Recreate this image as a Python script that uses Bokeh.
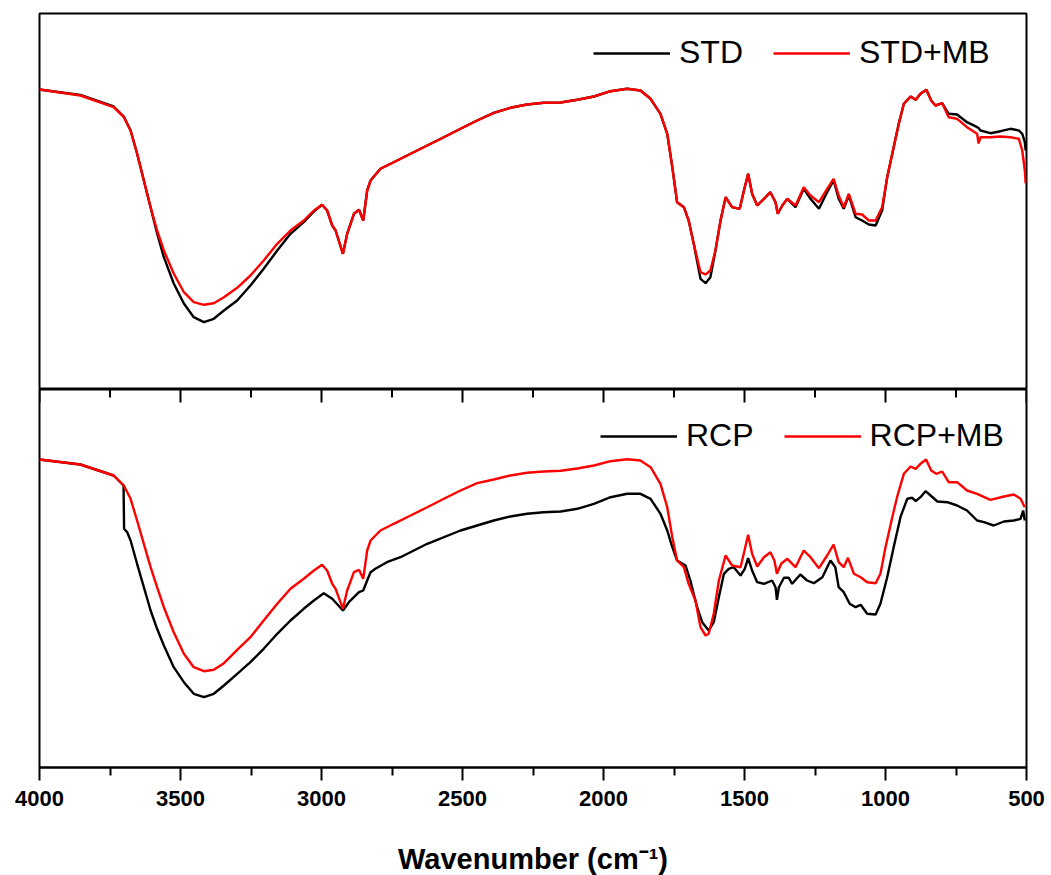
import math
from bokeh.plotting import figure
from bokeh.layouts import column
from bokeh.models import Range1d, FixedTicker, LinearAxis, Legend, LegendItem
from bokeh.embed import file_html
from bokeh.resources import INLINE

# ---------------- data (transmittance, arbitrary units) ----------------
top_wn = [4000, 3855, 3737, 3701, 3677, 3654, 3630, 3606, 3583, 3559, 3524, 3488,
          3453, 3417, 3382, 3346, 3299, 3252, 3205, 3157, 3110, 3063, 3027, 2998,
          2980, 2962, 2950, 2924, 2909, 2885, 2867, 2852, 2838, 2826, 2791, 2744,
          2684, 2625, 2566, 2507, 2448, 2389, 2330, 2271, 2212, 2152, 2093, 2034,
          1975, 1916, 1869, 1833, 1798, 1774, 1756, 1739, 1715, 1698, 1680, 1656,
          1638, 1621, 1603, 1585, 1567, 1544, 1517, 1502, 1487, 1473, 1455, 1431,
          1408, 1390, 1382, 1366, 1348, 1319, 1290, 1266, 1236, 1207, 1184, 1166,
          1148, 1130, 1106, 1083, 1059, 1035, 1012, 994, 971, 953, 935, 911,
          893, 876, 855, 838, 823, 799, 776, 746, 711, 675, 670, 663,
          628, 592, 557, 527, 515, 506, 503]
std_mb_t = [300, 294, 282.3, 272.3, 259, 236, 209, 182.3, 159, 139, 116, 97.3,
            87.3, 84.7, 86.3, 92.3, 101.7, 114, 129, 145.7, 159, 169, 179, 184.7,
            179, 164, 159, 135.7, 155.7, 175.7, 179.7, 169, 199, 209, 220.7, 227.3,
            235.7, 244, 252.3, 260.7, 269, 276.7, 281.7, 285, 286.7, 287, 289.7, 293,
            298.3, 300.7, 299, 290.7, 275.7, 255.7, 222.3, 187.3, 182.3, 169, 145.7, 117.3,
            115, 119, 139, 169, 192.3, 182.3, 180.7, 199, 215.7, 195.7, 184, 190.7,
            197.3, 187.3, 175.7, 184, 190.7, 184, 202.3, 194, 187.3, 200.7, 210.7, 194,
            182.3, 195.7, 175.7, 175, 169, 169, 182.3, 212.3, 242.3, 265.7, 285.7, 293,
            289.7, 295.7, 299.7, 289, 284, 286.3, 272.3, 270.7, 262.3, 255.7, 246, 252.3,
            252.3, 253, 252.3, 250.7, 239, 219, 206]
std_t = [300, 294.5, 283, 273, 259, 236, 209, 182, 156, 132.3, 106, 86,
         72.3, 67.3, 70.7, 79, 89, 104, 120.7, 139, 155.7, 167.3, 178, 184.7,
         179, 164, 159, 135.7, 155.7, 175.7, 179.7, 169, 199, 209, 220.7, 227.3,
         235.7, 244, 252.3, 260.7, 269, 276.7, 281.7, 285, 286.7, 287, 289.7, 293,
         298.3, 300.7, 299, 290.7, 275.7, 255.7, 222.3, 187.3, 182.3, 169, 145.7, 110.7,
         106.3, 112.3, 139, 169, 192.3, 182.3, 180.7, 199, 215.7, 195.7, 184, 190.7,
         197.3, 187.3, 175.7, 184, 190.7, 182.3, 200.7, 190.7, 180.7, 197.3, 209, 190.7,
         180.7, 194, 172.3, 169, 165, 164, 179, 212.3, 242.3, 265.7, 285.7, 293,
         289.7, 295.7, 299.7, 289, 284, 286.3, 275.7, 275, 267.3, 262.3, 261.5, 259,
         256.3, 258.3, 260.7, 259, 255.7, 247.3, 239]

rcp_wn = [4000, 3855, 3737, 3702, 3700, 3689, 3677, 3654, 3630, 3606, 3583, 3559,
          3524, 3488, 3453, 3417, 3382, 3346, 3299, 3252, 3205, 3157, 3110, 3063,
          3027, 2992, 2962, 2924, 2903, 2867, 2852, 2838, 2826, 2809, 2768, 2720,
          2625, 2507, 2389, 2330, 2271, 2212, 2152, 2093, 2034, 1975, 1916, 1869,
          1833, 1798, 1774, 1756, 1739, 1709, 1692, 1668, 1650, 1627, 1609, 1591,
          1573, 1556, 1538, 1514, 1499, 1487, 1473, 1455, 1431, 1402, 1390, 1385,
          1378, 1360, 1343, 1331, 1302, 1278, 1254, 1224, 1195, 1178, 1166, 1148,
          1127, 1106, 1088, 1065, 1035, 1018, 994, 971, 947, 923, 905, 893,
          876, 858, 840, 816, 781, 746, 711, 675, 651, 616, 580, 545,
          521, 512, 506]
rcp_t = [308, 303, 292, 282, 238.7, 235.3, 227, 203.7, 180.3, 157, 138.7, 122,
         100.3, 85.3, 73.7, 70.3, 73.7, 82, 93.7, 105.3, 118.7, 133.7, 147, 158.7,
         167, 174.3, 168.7, 157, 165.3, 175.3, 177, 187, 195.3, 198.7, 205.3, 210.3,
         223.7, 237, 247, 251, 253.7, 255.3, 256, 258.7, 263.7, 270.3, 273.7, 273.7,
         268.7, 253.7, 237, 220.3, 207, 202, 187, 160.3, 145.3, 137, 145.3, 170.3,
         193.7, 198.7, 200.3, 192, 198.7, 209.3, 197, 185.3, 183.7, 187, 180.3, 167.7,
         180.3, 189.7, 189.7, 183.7, 193, 187, 184.3, 190.3, 207, 200.3, 180.3, 175.3,
         163.7, 160.3, 162.7, 153.7, 153, 163.7, 190.3, 220.3, 250.3, 268.7, 269.7, 266.3,
         270.3, 276.3, 272, 266, 265.3, 262, 257, 247, 245.3, 242, 246, 247,
         248.7, 257, 247]

rcp_mb_wn = [4000, 3855, 3737, 3701, 3677, 3654, 3630, 3606, 3583, 3559, 3524, 3488,
             3453, 3417, 3382, 3346, 3299, 3252, 3205, 3157, 3110, 3063, 3027, 2998,
             2980, 2962, 2950, 2924, 2909, 2885, 2867, 2852, 2838, 2826, 2791, 2744,
             2684, 2625, 2566, 2507, 2448, 2389, 2330, 2271, 2212, 2152, 2093, 2034,
             1975, 1916, 1869, 1833, 1798, 1774, 1756, 1739, 1715, 1698, 1674, 1656,
             1638, 1627, 1609, 1591, 1567, 1544, 1514, 1500, 1487, 1473, 1455, 1431,
             1408, 1394, 1385, 1370, 1348, 1319, 1290, 1266, 1236, 1207, 1184, 1166,
             1148, 1133, 1112, 1088, 1065, 1035, 1018, 1000, 976, 959, 935, 911,
             893, 876, 856, 838, 820, 799, 776, 746, 711, 675, 628, 580,
             545, 521, 506]
rcp_mb_t = [308, 303, 292, 282, 268.7, 247, 223.7, 200.3, 180.3, 160.3, 135.3, 113.7,
            100.3, 96.3, 97.7, 104.3, 117.7, 130.3, 147, 163.7, 178.7, 188.7, 197, 202.7,
            197, 183.7, 178.7, 158.7, 177, 195.3, 197.7, 188.7, 217, 227, 237, 243.7,
            252, 260.3, 268.7, 277, 284.3, 288, 292, 294.7, 296, 296.7, 299, 302,
            306.3, 308.3, 307, 300.3, 283.7, 260.3, 230.3, 207, 200.3, 183.7, 167, 140.3,
            132, 133.7, 153.7, 187, 212, 202, 200.3, 217, 232.7, 213.7, 201, 210.3,
            215.3, 207, 193.7, 203.7, 208.7, 200.3, 217, 210.3, 199.3, 212, 223, 205.3,
            200.3, 209.7, 193.7, 190.3, 185.3, 184.3, 193.7, 220.3, 250.3, 270.3, 293.7, 301,
            298.7, 303.7, 308, 297, 293.7, 296, 285.3, 285.3, 277, 273.7, 267.7, 271,
            273, 268.7, 260.3]

major_ticks = [4000, 3500, 3000, 2500, 2000, 1500, 1000, 500]
minor_ticks = [3750, 3250, 2750, 2250, 1750, 1250, 750]

FONT = "Liberation Sans"
FRAME_W = 987
LW = 2.4
TOP_YMAX = 376
BOT_YMAX = 378


def base_fig(frame_h, ymax, border_top):
    p = figure(frame_width=FRAME_W, frame_height=frame_h,
               x_range=Range1d(4000, 500), y_range=Range1d(0, ymax),
               x_axis_location=None, y_axis_location=None,
               output_backend="svg", toolbar_location=None,
               min_border_left=39, min_border_right=25,
               min_border_top=border_top, min_border_bottom=0)
    p.grid.visible = False
    p.outline_line_color = "black"
    p.outline_line_width = 2
    p.background_fill_color = "white"
    p.border_fill_color = "white"
    return p


def add_legend(p, items, loc):
    lg = Legend(items=items, orientation="horizontal", location=loc,
                padding=0, margin=0, spacing=30, label_standoff=9,
                glyph_width=77, glyph_height=20,
                label_text_font=FONT, label_text_font_size="32px",
                label_text_color="black",
                border_line_alpha=0, background_fill_alpha=0)
    p.add_layout(lg)


# ---------------- top panel ----------------
p1 = base_fig(TOP_YMAX, TOP_YMAX, 13)
r_std = p1.line(top_wn, std_t, line_color="black", line_width=LW)
r_stdmb = p1.line(top_wn, std_mb_t, line_color="#ff0000", line_width=LW)
add_legend(p1, [LegendItem(label="STD", renderers=[r_std]),
                LegendItem(label="STD+MB", renderers=[r_stdmb])], (554, 318))

# ---------------- bottom panel ----------------
p2 = base_fig(BOT_YMAX, BOT_YMAX, 0)
r_rcp = p2.line(rcp_wn, rcp_t, line_color="black", line_width=LW)
r_rcpmb = p2.line(rcp_mb_wn, rcp_mb_t, line_color="#ff0000", line_width=LW)
add_legend(p2, [LegendItem(label="RCP", renderers=[r_rcp]),
                LegendItem(label="RCP+MB", renderers=[r_rcpmb])], (561, 313))

# inward tick marks along the shared border between the two panels
p2.ray(x=major_ticks, y=[BOT_YMAX] * len(major_ticks), length=13,
       length_units="screen", angle=-math.pi / 2, line_color="black", line_width=2)
p2.ray(x=minor_ticks, y=[BOT_YMAX] * len(minor_ticks), length=8,
       length_units="screen", angle=-math.pi / 2, line_color="black", line_width=2)

ticker = FixedTicker(ticks=major_ticks, minor_ticks=minor_ticks)
bot_ax = LinearAxis(ticker=ticker, axis_label="Wavenumber (cm\u207b\u00b9)")
bot_ax.major_tick_in = 0
bot_ax.major_tick_out = 13
bot_ax.minor_tick_in = 0
bot_ax.minor_tick_out = 8
bot_ax.axis_line_width = 2
bot_ax.major_tick_line_width = 2
bot_ax.minor_tick_line_width = 2
bot_ax.major_label_text_font = FONT
bot_ax.major_label_text_font_style = "bold"
bot_ax.major_label_text_font_size = "22px"
bot_ax.major_label_text_color = "black"
bot_ax.major_label_standoff = 10
bot_ax.axis_label_text_font = FONT
bot_ax.axis_label_text_font_style = "bold"
bot_ax.axis_label_text_font_size = "29px"
bot_ax.axis_label_text_color = "black"
bot_ax.axis_label_standoff = 34
p2.add_layout(bot_ax, "below")

layout = column(p1, p2, spacing=0)

open("out.html", "w").write(file_html(layout, INLINE))
